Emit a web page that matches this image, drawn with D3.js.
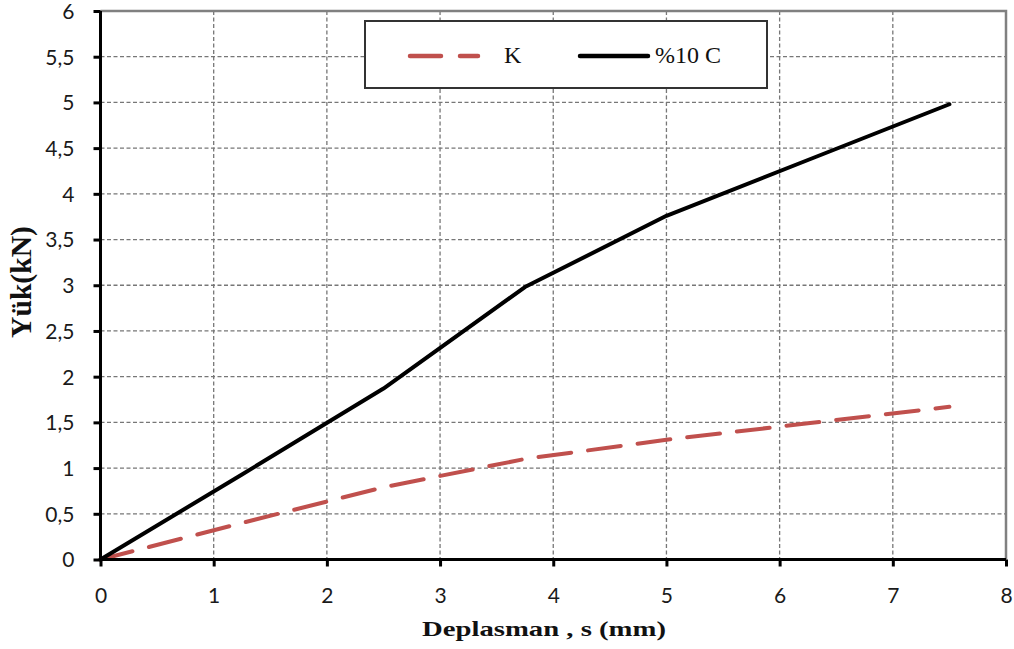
<!DOCTYPE html>
<html>
<head>
<meta charset="utf-8">
<script src="https://cdn.jsdelivr.net/npm/d3@7"></script>
<style>
  body { margin: 0; background: #fff; }
  svg { display: block; }
  .tick-label { font-family: Lato, "Open Sans", sans-serif; font-size: 21px; fill: #1a1a1a; }
  .axis-title { font-family: "Liberation Serif", "Times New Roman", serif; font-weight: bold; fill: #111; }
  .legend-text { font-family: "Liberation Serif", "Times New Roman", serif; font-size: 24px; fill: #111; }
</style>
</head>
<body>
<svg width="1014" height="649"></svg>
<script>
// Veriler
const deplasman = [0, 1.25, 2.5, 3.75, 5, 6.25, 7.5];
const yukK = [0, 0.40, 0.79, 1.10, 1.31, 1.49, 1.67];
const yukC10 = [0, 0.93, 1.87, 2.98, 3.76, 4.37, 4.98];

const xTicks = [0, 1, 2, 3, 4, 5, 6, 7, 8];
const yTicks = [0, 0.5, 1, 1.5, 2, 2.5, 3, 3.5, 4, 4.5, 5, 5.5, 6];

const seriler = [
  { ad: "K", degerler: yukK, renk: "#c0504d", kesikli: true },
  { ad: "%10 C", degerler: yukC10, renk: "#000000", kesikli: false }
];

cizGrafik();

function cizGrafik() {
  const svg = d3.select("svg");
  const sol = 100.5, sag = 1006, ust = 11, alt = 559.5;

  const x = d3.scaleLinear().domain([0, 8]).range([sol, sag]);
  const y = d3.scaleLinear().domain([0, 6]).range([alt, ust]);

  // Izgara çizgileri
  svg.append("g").selectAll("line")
      .data(yTicks.filter(d => d > 0 && d < 6))
      .enter().append("line")
      .attr("x1", sol).attr("x2", sag)
      .attr("y1", d => y(d)).attr("y2", d => y(d))
      .attr("stroke", "#777").attr("stroke-width", 1.3)
      .attr("stroke-dasharray", "4 2.5");

  svg.append("g").selectAll("line")
      .data(xTicks.filter(d => d > 0 && d < 8))
      .enter().append("line")
      .attr("x1", d => x(d)).attr("x2", d => x(d))
      .attr("y1", ust).attr("y2", alt)
      .attr("stroke", "#777").attr("stroke-width", 1.3)
      .attr("stroke-dasharray", "4 2.5");

  // Üst ve sağ çerçeve
  svg.append("path")
      .attr("d", `M${sol},${ust}H${sag}V${alt}`)
      .attr("fill", "none").attr("stroke", "#808080").attr("stroke-width", 2.5);

  // Seriler
  const cizgi = d3.line()
      .x((d, i) => x(deplasman[i]))
      .y(d => y(d));

  seriler.forEach(s => {
    svg.append("path")
        .datum(s.degerler)
        .attr("d", cizgi)
        .attr("fill", "none")
        .attr("stroke", s.renk)
        .attr("stroke-width", 4)
        .attr("stroke-linecap", "round")
        .attr("stroke-linejoin", "round")
        .attr("stroke-dasharray", s.kesikli ? "33 17" : null);
  });

  // Eksenler
  const xEkseni = d3.axisBottom(x).tickValues(xTicks).tickSize(7).tickSizeOuter(0).tickFormat(d3.format("d"));
  const yEkseni = d3.axisLeft(y).tickValues(yTicks).tickSize(7).tickSizeOuter(0)
      .tickFormat(d => String(d).replace(".", ","));

  const gx = svg.append("g").attr("transform", `translate(0,${alt})`).call(xEkseni);
  const gy = svg.append("g").attr("transform", `translate(${sol},0)`).call(yEkseni);

  [gx, gy].forEach(g => {
    g.select(".domain").attr("stroke", "#000").attr("stroke-width", 3);
    g.selectAll(".tick line").attr("stroke", "#000").attr("stroke-width", 3);
    g.selectAll(".tick text").attr("class", "tick-label").attr("font-size", null).attr("font-family", null);
  });
  gx.select(".domain").attr("d", `M${sol - 1.5},0H${sag}`);
  gy.select(".domain").attr("d", `M0,${alt}V${ust}`);
  gx.selectAll(".tick text").attr("dy", null).attr("y", 43);
  gy.selectAll(".tick text").attr("x", -26).attr("dy", "0.35em");

  // Eksen başlıkları
  svg.append("text")
      .attr("class", "axis-title")
      .attr("x", 544).attr("y", 636)
      .attr("text-anchor", "middle")
      .attr("font-size", 22)
      .attr("textLength", 244)
      .attr("lengthAdjust", "spacingAndGlyphs")
      .text("Deplasman , s (mm)");

  svg.append("text")
      .attr("class", "axis-title")
      .attr("transform", "translate(31,282) rotate(-90)")
      .attr("text-anchor", "middle")
      .attr("font-size", 29)
      .attr("textLength", 112)
      .attr("lengthAdjust", "spacingAndGlyphs")
      .text("Yük(kN)");

  // Lejant
  const lejant = svg.append("g");
  lejant.append("rect")
      .attr("x", 365).attr("y", 21).attr("width", 402).attr("height", 67)
      .attr("fill", "#fff").attr("stroke", "#333").attr("stroke-width", 2);

  const lejantOgeleri = [
    { seri: seriler[0], x1: 410, x2: 478, tx: 504 },
    { seri: seriler[1], x1: 580, x2: 648, tx: 655 }
  ];
  lejantOgeleri.forEach(o => {
    lejant.append("line")
        .attr("x1", o.x1).attr("x2", o.x2)
        .attr("y1", 56).attr("y2", 56)
        .attr("stroke", o.seri.renk).attr("stroke-width", 4.5)
        .attr("stroke-linecap", "round")
        .attr("stroke-dasharray", o.seri.kesikli ? "31 19" : null);
    lejant.append("text")
        .attr("class", "legend-text")
        .attr("x", o.tx).attr("y", 63)
        .text(o.seri.ad);
  });
}
</script>
</body>
</html>
